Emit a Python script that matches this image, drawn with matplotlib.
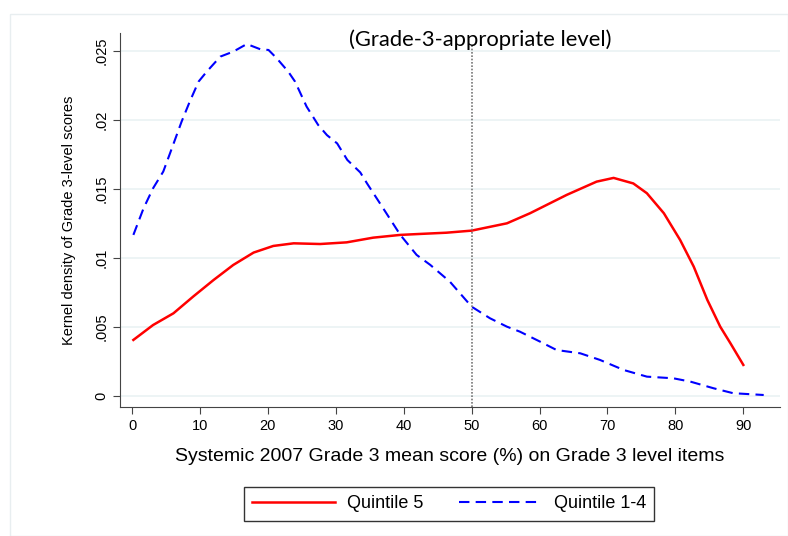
import numpy as np
import matplotlib
matplotlib.use("Agg")
import matplotlib.pyplot as plt
from matplotlib.patches import Rectangle

# values
q14_x = [0.2, 1.7, 3.1, 4.6, 5.6, 7.3, 8.5, 9.8, 11, 13, 14.9, 16.9, 18.9, 20.1, 21.3, 23.0, 24.0,
         25.7, 27.4, 28.7, 30.2, 31.7, 33.6, 34.6, 36.5, 39.5, 41.9, 43.9, 46.8, 50, 52.7, 55.2,
         57.1, 60.1, 62.5, 66, 68.9, 72.4, 75.8, 79.7, 82.2, 85.6, 88.5, 93]
q14_y = [0.01167, 0.0136, 0.01505, 0.01626, 0.01759, 0.01988, 0.02133, 0.02278, 0.0235, 0.02459,
         0.02495, 0.0255, 0.02512, 0.02507, 0.02447, 0.0235, 0.02278, 0.02097, 0.01964, 0.0189,
         0.0183, 0.0171, 0.0162, 0.0154, 0.01396, 0.01167, 0.01022, 0.0095, 0.00828, 0.00647,
         0.00563, 0.00502, 0.00466, 0.00393, 0.00333, 0.00309, 0.00261, 0.00188, 0.0014, 0.00128,
         0.00104, 0.00056, 0.0002, 0.00007]

q5_x = [0.2, 3.1, 6.1, 9.0, 12, 14.9, 17.9, 20.8, 23.8, 27.7, 31.6, 35.5, 39.5, 42.4, 46.3, 50,
        55.2, 58.6, 64, 68.4, 70.9, 73.8, 75.8, 78.3, 80.7, 82.7, 84.7, 86.6, 88.1, 90]
q5_y = [0.00406, 0.00514, 0.00599, 0.0072, 0.0084, 0.00949, 0.01039, 0.01087, 0.01106, 0.01101,
        0.01113, 0.01147, 0.01167, 0.01174, 0.01183, 0.01198, 0.01251, 0.01324, 0.01457, 0.01553,
        0.0158, 0.0154, 0.01469, 0.01324, 0.0113, 0.00937, 0.00696, 0.00502, 0.00382, 0.00225]

yticks = [0, 0.005, 0.01, 0.015, 0.02, 0.025]
ytick_labels = ["0", ".005", ".01", ".015", ".02", ".025"]
xticks = list(range(0, 100, 10))

W, H = 788, 536
plt.rcParams["font.family"] = ["Liberation Sans", "DejaVu Sans"]
fig = plt.figure(figsize=(W / 100, H / 100), dpi=100)
fig.patch.set_facecolor("white")
fig.patches.append(Rectangle((10 / W, 0), 1 - 10 / W, 1 - 14 / H, transform=fig.transFigure,
                             fill=False, edgecolor="#e8eef0", lw=1))

ax = fig.add_axes([120 / W, 1 - 407 / H, 660 / W, 374 / H])
ax.set_xlim(-1.77, 95.4)
ax.set_ylim(-0.0008, 0.0263)

for y in yticks:
    ax.axhline(y, color="#eaf2f3", lw=1.2, zorder=0)

ax.plot(q5_x, q5_y, color="red", lw=1.8, label="Quintile 5")
ax.plot(q14_x, q14_y, color="blue", lw=1.5, ls=(0, (5, 3)), label="Quintile 1-4")
ax.plot([50, 50], [-0.0008, 0.0255], color="#777777", lw=1.2, ls=(0, (1, 1)))

for s in ["top", "right"]:
    ax.spines[s].set_visible(False)
for s in ["left", "bottom"]:
    ax.spines[s].set_color("#444444")

ax.set_xticks(xticks)
ax.set_yticks(yticks)
ax.set_yticklabels(ytick_labels, rotation=90, va="center")
ax.tick_params(labelsize=10.5, color="#444444", length=5)

ax.set_xlabel("Systemic 2007 Grade 3 mean score (%) on Grade 3 level items", fontsize=14,
              labelpad=11)
ax.set_ylabel("Kernel density of Grade 3-level scores", fontsize=10.5, labelpad=13)

fig.text(480 / W, 1 - 40 / H, "(Grade-3-appropriate level)", fontsize=15.8,
         family="Lato", ha="center", va="center")

fig.legend(loc="center", bbox_to_anchor=(449 / W, 1 - 504 / H), ncol=2, fontsize=13,
           frameon=True, fancybox=False, edgecolor="black", handlelength=4.6,
           handletextpad=0.65, columnspacing=2.0, borderpad=0.45)

fig.savefig("out.png", dpi=100)
